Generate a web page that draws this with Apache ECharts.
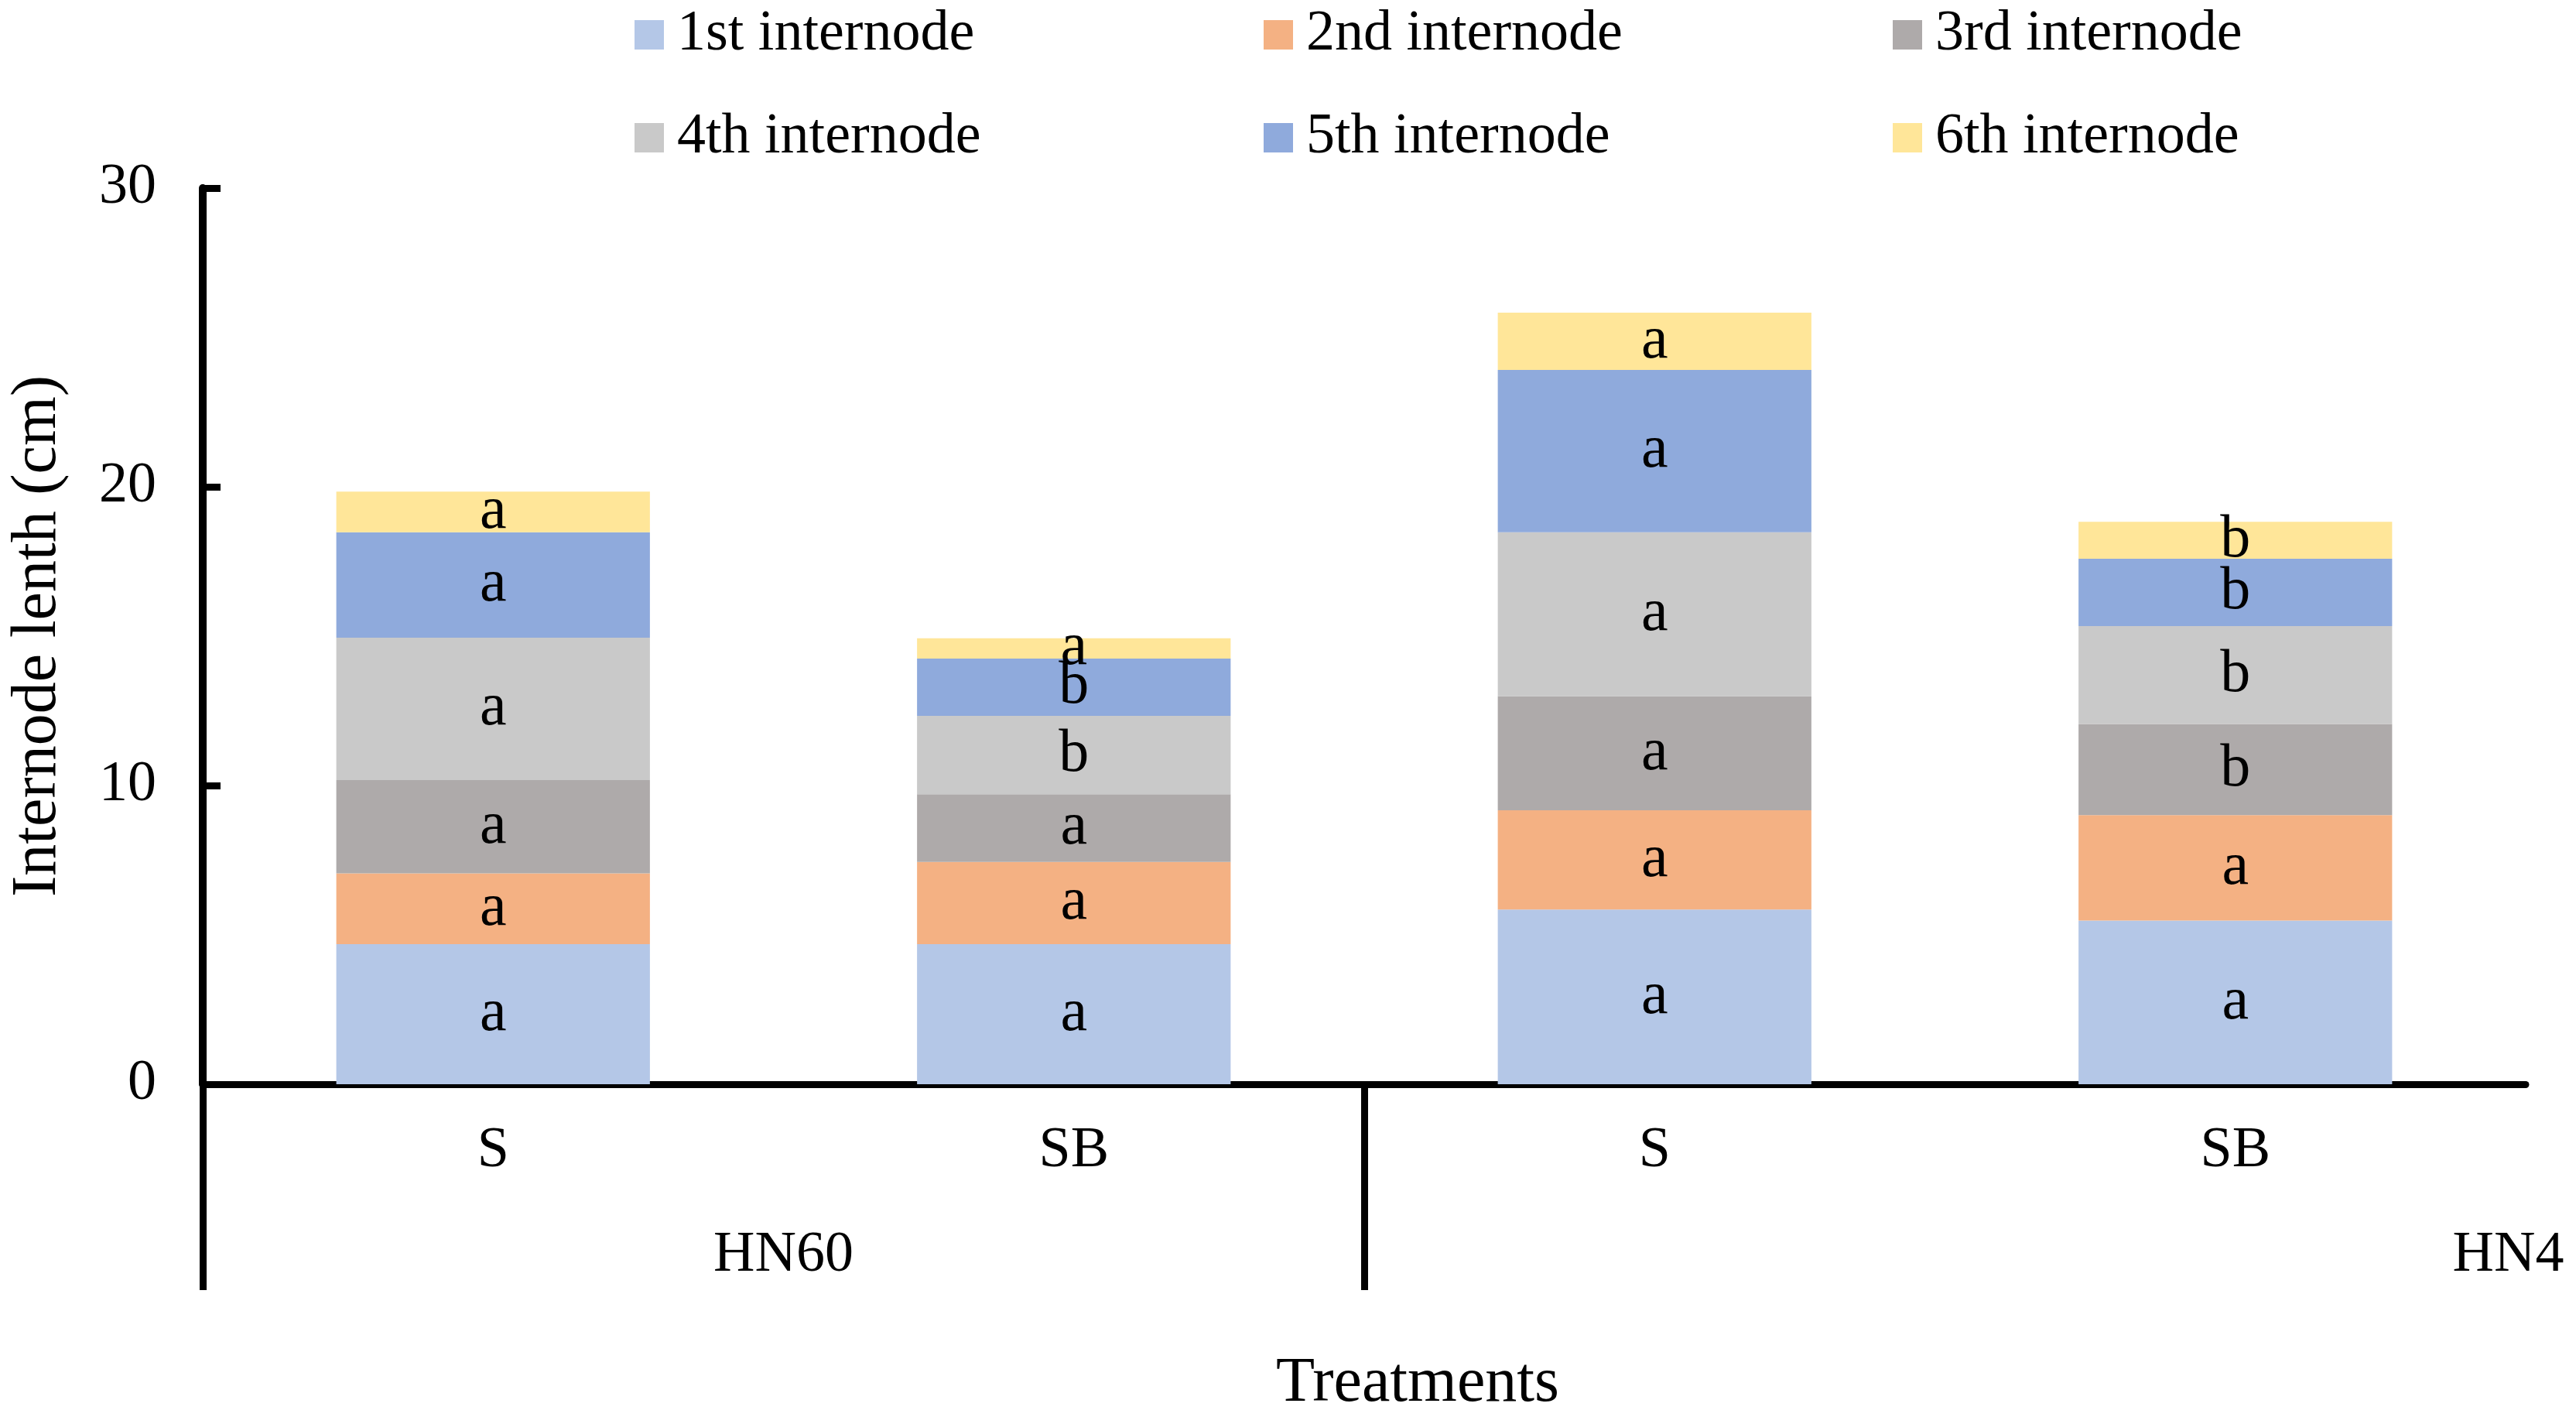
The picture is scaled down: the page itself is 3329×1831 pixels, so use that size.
<!DOCTYPE html>
<html>
<head>
<meta charset="utf-8">
<title>Internode length</title>
<script src="https://cdn.jsdelivr.net/npm/echarts@6/dist/echarts.min.js"></script>
<style>
  html, body { margin: 0; padding: 0; background: #fff; }
  #chart { width: 3329px; height: 1831px; }
</style>
</head>
<body>
<div id="chart"></div>
<script>
// treatments on the x axis
var categories = ['S', 'SB', 'S', 'SB'];
var groups = ['HN60', 'HN4'];
var seriesNames = ['1st internode', '2nd internode', '3rd internode',
                   '4th internode', '5th internode', '6th internode'];
var colors = ['#B4C7E7', '#F4B183', '#AEAAAA', '#C9C9C9', '#8FAADC', '#FFE699'];

// internode length (cm)
var internode1 = [4.69, 4.69, 5.85, 5.48];
var internode2 = [2.37, 2.75, 3.32, 3.53];
var internode3 = [3.12, 2.27, 3.82, 3.05];
var internode4 = [4.77, 2.62, 5.49, 3.28];
var internode5 = [3.53, 1.92, 5.43, 2.25];
var internode6 = [1.36, 0.68, 1.92, 1.24];

// significance letters
var letters1 = ['a', 'a', 'a', 'a'];
var letters2 = ['a', 'a', 'a', 'a'];
var letters3 = ['a', 'a', 'a', 'b'];
var letters4 = ['a', 'b', 'a', 'b'];
var letters5 = ['a', 'b', 'a', 'b'];
var letters6 = ['a', 'a', 'a', 'b'];

var yTicks = [0, 10, 20, 30];

var values = [internode1, internode2, internode3, internode4, internode5, internode6];
var letters = [letters1, letters2, letters3, letters4, letters5, letters6];

var font = "'Liberation Serif', 'Times New Roman', serif";
var myChart = echarts.init(document.getElementById('chart'));

var series = [];
var legends = [];
var legendLeft = [820, 1633, 2446];
var legendTop = [8, 141];
for (var i = 0; i < seriesNames.length; i++) {
    (function (i) {
        series.push({
            name: seriesNames[i],
            type: 'bar',
            stack: 'total',
            barWidth: '54%',
            data: values[i],
            itemStyle: { color: colors[i] },
            label: {
                show: true,
                position: 'inside',
                color: '#000',
                fontFamily: font,
                fontSize: 78,
                formatter: function (p) { return letters[i][p.dataIndex]; }
            }
        });
    })(i);
    legends.push({
        data: [seriesNames[i]],
        left: legendLeft[i % 3],
        top: legendTop[Math.floor(i / 3)],
        icon: 'rect',
        itemWidth: 38,
        itemHeight: 38,
        selectedMode: false,
        padding: 0,
        textStyle: {
            fontFamily: font,
            fontSize: 74,
            color: '#000',
            padding: [0, 0, 0, 12]
        }
    });
}

var option = {
    animation: false,
    backgroundColor: '#fff',
    textStyle: { fontFamily: font },
    color: colors,
    legend: legends,
    title: {
        text: 'Treatments',
        left: 1827,
        top: 1742,
        textAlign: 'center',
        textStyle: { fontFamily: font, fontSize: 82, fontWeight: 'normal', color: '#000' }
    },
    grid: { left: 256, right: 65, top: 243, bottom: 430, containLabel: false },
    xAxis: [
        {
            type: 'category',
            data: categories,
            axisLine: { lineStyle: { color: '#000', width: 9 } },
            axisTick: { show: false },
            axisLabel: { color: '#000', fontFamily: font, fontSize: 74, margin: 50 }
        },
        {
            type: 'value',
            min: 0,
            max: 4,
            position: 'bottom',
            axisLine: { show: false },
            splitLine: { show: false },
            axisTick: {
                show: true,
                customValues: [0, 2],
                length: 266,
                lineStyle: { color: '#000', width: 9 }
            },
            axisLabel: {
                color: '#000',
                fontFamily: font,
                fontSize: 74,
                margin: 185,
                customValues: [1, 3.97],
                formatter: function (v) { return v < 2 ? groups[0] : groups[1]; }
            }
        }
    ],
    yAxis: {
        type: 'value',
        min: yTicks[0],
        max: yTicks[yTicks.length - 1],
        interval: 10,
        name: 'Internode lenth (cm)',
        nameLocation: 'middle',
        nameGap: 172,
        nameTextStyle: { fontFamily: font, fontSize: 82, color: '#000' },
        axisLine: { show: true, lineStyle: { color: '#000', width: 10 } },
        axisTick: { show: true, inside: true, length: 23, lineStyle: { color: '#000', width: 9 } },
        splitLine: { show: false },
        axisLabel: { color: '#000', fontFamily: font, fontSize: 74, margin: 60 }
    },
    series: series
};

myChart.setOption(option);
window.addEventListener('resize', function () { myChart.resize(); });
</script>
</body>
</html>
